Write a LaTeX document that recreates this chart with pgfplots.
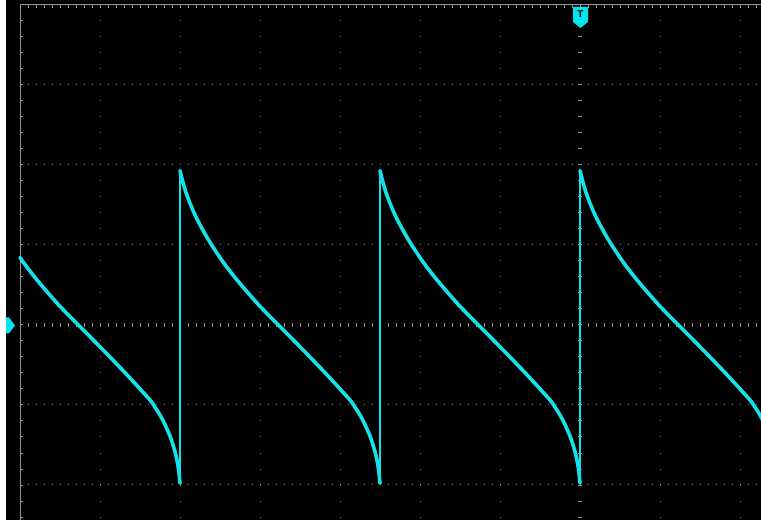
\documentclass[border=0pt]{standalone}
\usepackage{pgfplots}
\pgfplotsset{compat=1.18}
\usepackage{fontspec}
\setmainfont{Liberation Sans}
\definecolor{trace}{RGB}{22,224,232}
\definecolor{mrk}{RGB}{0,228,238}
\definecolor{bordc}{RGB}{150,150,150}
\definecolor{griddot}{RGB}{125,125,125}
\begin{document}
\begin{tikzpicture}[x=1bp,y=1bp]
\useasboundingbox (0,0) rectangle (761,520);
% screen
\fill[black] (0,0) rectangle (761,520);
\fill[white] (0,0) rectangle (6,520);
% dotted grid (horizontal)
\foreach \Y in {435,355,275,115,35}{
  \draw[griddot, line width=1bp, dash pattern=on 1bp off 7bp] (19.5,\Y) -- (761,\Y);
}
% dotted grid (vertical)
\foreach \X in {100,180,260,340,420,500,660,740}{
  \draw[griddot, line width=1bp, dash pattern=on 1bp off 15bp] (\X,515.5) -- (\X,0);
}
% centre axes with tick marks
\draw[bordc, line width=4bp, dash pattern=on 1bp off 7bp] (19.5,195) -- (761,195);
\draw[bordc, line width=4bp, dash pattern=on 1bp off 15bp] (580,515.5) -- (580,0);
% border
\draw[bordc, line width=1bp] (20,0) -- (20,515) -- (761,515);
\draw[bordc, line width=3bp, dash pattern=on 1bp off 7bp] (19.5,513.5) -- (761,513.5);
\draw[bordc, line width=3bp, dash pattern=on 1bp off 15bp] (21.5,515.5) -- (21.5,0);

\begin{axis}[
  at={(0,0)}, anchor=south west,
  x=80bp, y=80bp,
  xmin=-7.25, xmax=2.2625,
  ymin=-2.4375, ymax=4.0625,
  hide axis,
  fall/.style={trace, line width=3.6bp, line join=round, line cap=round, smooth, tension=0.5},
]
% falling parts of the sawtooth
\addplot[fall] coordinates {
(-7.0,0.846) (-6.9625,0.789) (-6.7875,0.562) (-6.5375,0.274) (-6.375,0.104) (-6.125,-0.146)
(-5.875,-0.401) (-5.625,-0.663) (-5.375,-0.938) (-5.3125,-1.028) (-5.25,-1.126) (-5.1875,-1.245) (-5.125,-1.389)
(-5.0875,-1.498) (-5.05,-1.633) (-5.025,-1.758) (-5.0125,-1.852) (-5.0,-1.977)
};
\addplot[fall] coordinates {
(-5.0,1.93) (-4.9625,1.78) (-4.925,1.656) (-4.875,1.521) (-4.8125,1.377) (-4.75,1.252)
(-4.625,1.033) (-4.4625,0.789) (-4.2875,0.562) (-4.0375,0.274) (-3.875,0.104) (-3.625,-0.146)
(-3.375,-0.401) (-3.125,-0.663) (-2.875,-0.938) (-2.8125,-1.028) (-2.75,-1.126) (-2.6875,-1.245) (-2.625,-1.389)
(-2.5875,-1.498) (-2.55,-1.633) (-2.525,-1.758) (-2.5125,-1.852) (-2.5,-1.977)
};
\addplot[fall] coordinates {
(-2.5,1.93) (-2.4625,1.78) (-2.425,1.656) (-2.375,1.521) (-2.3125,1.377) (-2.25,1.252)
(-2.125,1.033) (-1.9625,0.789) (-1.7875,0.562) (-1.5375,0.274) (-1.375,0.104) (-1.125,-0.146)
(-0.875,-0.401) (-0.625,-0.663) (-0.375,-0.938) (-0.3125,-1.028) (-0.25,-1.126) (-0.1875,-1.245) (-0.125,-1.389)
(-0.0875,-1.498) (-0.05,-1.633) (-0.025,-1.758) (-0.0125,-1.852) (0.0,-1.977)
};
\addplot[fall] coordinates {
(0.0,1.93) (0.0375,1.78) (0.075,1.656) (0.125,1.521) (0.1875,1.377) (0.25,1.252)
(0.375,1.033) (0.5375,0.789) (0.7125,0.562) (0.9625,0.274) (1.125,0.104) (1.375,-0.146)
(1.625,-0.401) (1.875,-0.663) (2.125,-0.938) (2.1875,-1.028) (2.25,-1.126) (2.3125,-1.245)
};
% rising edges
\addplot[trace, line width=1.8bp] coordinates {(-5.0,-1.977) (-5.0,1.93)};
\addplot[trace, line width=1.8bp] coordinates {(-2.5,-1.977) (-2.5,1.93)};
\addplot[trace, line width=1.8bp] coordinates {(0.0,-1.977) (0.0,1.93)};
\end{axis}

% trigger marker
\fill[mrk] (573,513) -- (588,513) -- (588,498) -- (580.5,492) -- (573,498) -- cycle;
\node[black, font=\fontsize{10}{10}\selectfont\bfseries, inner sep=0pt] at (580.5,505.5) {T};
% ground level marker
\fill[mrk] (6,202.5) -- (9,202.5) -- (15,194.5) -- (9,186.5) -- (6,186.5) -- cycle;
\end{tikzpicture}
\end{document}
